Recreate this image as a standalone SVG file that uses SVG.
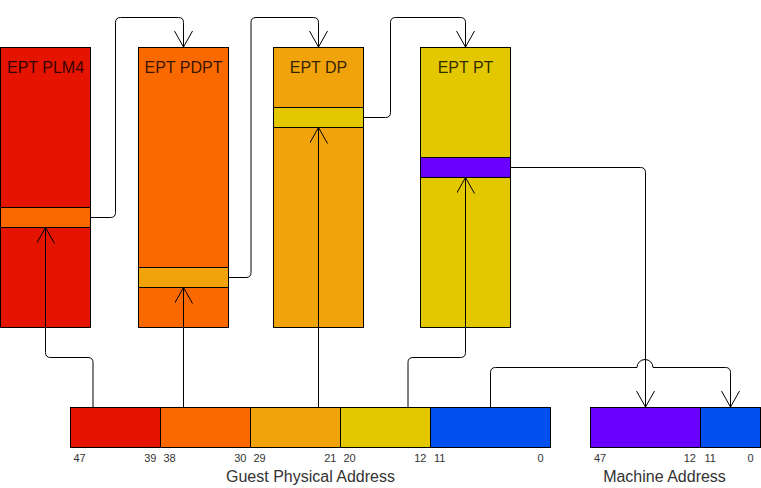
<svg xmlns="http://www.w3.org/2000/svg" width="761" height="488" viewBox="0 0 761 488">
<style>
rect{stroke:#000;stroke-width:1}
.t{font-family:"Liberation Sans",Arial,sans-serif;font-size:16px;fill:#000;fill-opacity:0.8;text-anchor:middle}
.b{font-family:"Liberation Sans",Arial,sans-serif;font-size:11px;fill:#333}
.c{fill:none;stroke:#000;stroke-width:1}
.red{fill:#E51400}.org{fill:#FA6800}.amb{fill:#F0A30A}.yel{fill:#E3C800}.pur{fill:#6A00FF}.blu{fill:#0050EF}
</style>
<defs>
<marker id="ar" markerUnits="userSpaceOnUse" markerWidth="20" markerHeight="20" refX="16" refY="9" orient="auto" viewBox="0 0 20 20">
<path d="M0,0 L16,9 L0,18" fill="none" stroke="#000" stroke-width="1"/>
</marker>
</defs>
<rect width="761" height="488" fill="#fff" style="stroke:none"/>
<g id="plm4">
<rect class="red" x="0.5" y="47.5" width="90" height="280"/>
<rect class="org" x="0.5" y="207.5" width="90" height="20"/>
<text class="t" x="45.5" y="73">EPT PLM4</text>
</g>
<g id="pdpt">
<rect class="org" x="138.5" y="47.5" width="90" height="280"/>
<rect class="amb" x="138.5" y="267.5" width="90" height="20"/>
<text class="t" x="183.5" y="73">EPT PDPT</text>
</g>
<g id="dp">
<rect class="amb" x="273.5" y="47.5" width="90" height="280"/>
<rect class="yel" x="273.5" y="107.5" width="90" height="20"/>
<text class="t" x="318.5" y="73">EPT DP</text>
</g>
<g id="pt">
<rect class="yel" x="420.5" y="47.5" width="90" height="280"/>
<rect class="pur" x="420.5" y="157.5" width="90" height="20"/>
<text class="t" x="465.5" y="73">EPT PT</text>
</g>
<g id="gpa">
<rect class="red" x="70.5" y="407.5" width="90" height="40"/>
<rect class="org" x="160.5" y="407.5" width="90" height="40"/>
<rect class="amb" x="250.5" y="407.5" width="90" height="40"/>
<rect class="yel" x="340.5" y="407.5" width="90" height="40"/>
<rect class="blu" x="430.5" y="407.5" width="120" height="40"/>
<text class="b" x="73.5" y="462">47</text>
<text class="b" x="156.5" y="462" text-anchor="end">39</text>
<text class="b" x="163.5" y="462">38</text>
<text class="b" x="246.5" y="462" text-anchor="end">30</text>
<text class="b" x="253.5" y="462">29</text>
<text class="b" x="336.5" y="462" text-anchor="end">21</text>
<text class="b" x="343.5" y="462">20</text>
<text class="b" x="426.5" y="462" text-anchor="end">12</text>
<text class="b" x="434" y="462">11</text>
<text class="b" x="543.5" y="462" text-anchor="end">0</text>
<text class="t" x="310.5" y="482" style="fill:#333;fill-opacity:1">Guest Physical Address</text>
</g>
<g id="ma">
<rect class="pur" x="590.5" y="407.5" width="110" height="40"/>
<rect class="blu" x="700.5" y="407.5" width="60" height="40"/>
<text class="b" x="594" y="462">47</text>
<text class="b" x="696" y="462" text-anchor="end">12</text>
<text class="b" x="704.5" y="462">11</text>
<text class="b" x="753.5" y="462" text-anchor="end">0</text>
<text class="t" x="664.5" y="482" style="fill:#333;fill-opacity:1">Machine Address</text>
</g>
<g id="connectors">
<path class="c" d="M90.5,217.5 L110.5,217.5 Q115.5,217.5 115.5,212.5 L115.5,22.5 Q115.5,17.5 120.5,17.5 L178.5,17.5 Q183.5,17.5 183.5,22.5 L183.5,47" marker-end="url(#ar)"/>
<path class="c" d="M228.5,277.5 L246,277.5 Q251,277.5 251,272.5 L251,22.5 Q251,17.5 256,17.5 L313.5,17.5 Q318.5,17.5 318.5,22.5 L318.5,47" marker-end="url(#ar)"/>
<path class="c" d="M363.5,117.5 L385.5,117.5 Q390.5,117.5 390.5,112.5 L390.5,22.5 Q390.5,17.5 395.5,17.5 L460.5,17.5 Q465.5,17.5 465.5,22.5 L465.5,47" marker-end="url(#ar)"/>
<path class="c" d="M510.5,167.5 L640.5,167.5 Q645.5,167.5 645.5,172.5 L645.5,407" marker-end="url(#ar)"/>
<path class="c" d="M490.5,407 L490.5,372.5 Q490.5,367.5 495.5,367.5 L637,367.5 A8,8 0 0 1 653,367.5 L725.5,367.5 Q730.5,367.5 730.5,372.5 L730.5,407" marker-end="url(#ar)"/>
<path class="c" d="M93,407 L93,362.5 Q93,357.5 88,357.5 L50.5,357.5 Q45.5,357.5 45.5,352.5 L45.5,227.5" marker-end="url(#ar)"/>
<path class="c" d="M183.5,407 L183.5,287.5" marker-end="url(#ar)"/>
<path class="c" d="M318.5,407 L318.5,127.5" marker-end="url(#ar)"/>
<path class="c" d="M408,407 L408,362.5 Q408,357.5 413,357.5 L460.5,357.5 Q465.5,357.5 465.5,352.5 L465.5,177.5" marker-end="url(#ar)"/>
</g>
</svg>
